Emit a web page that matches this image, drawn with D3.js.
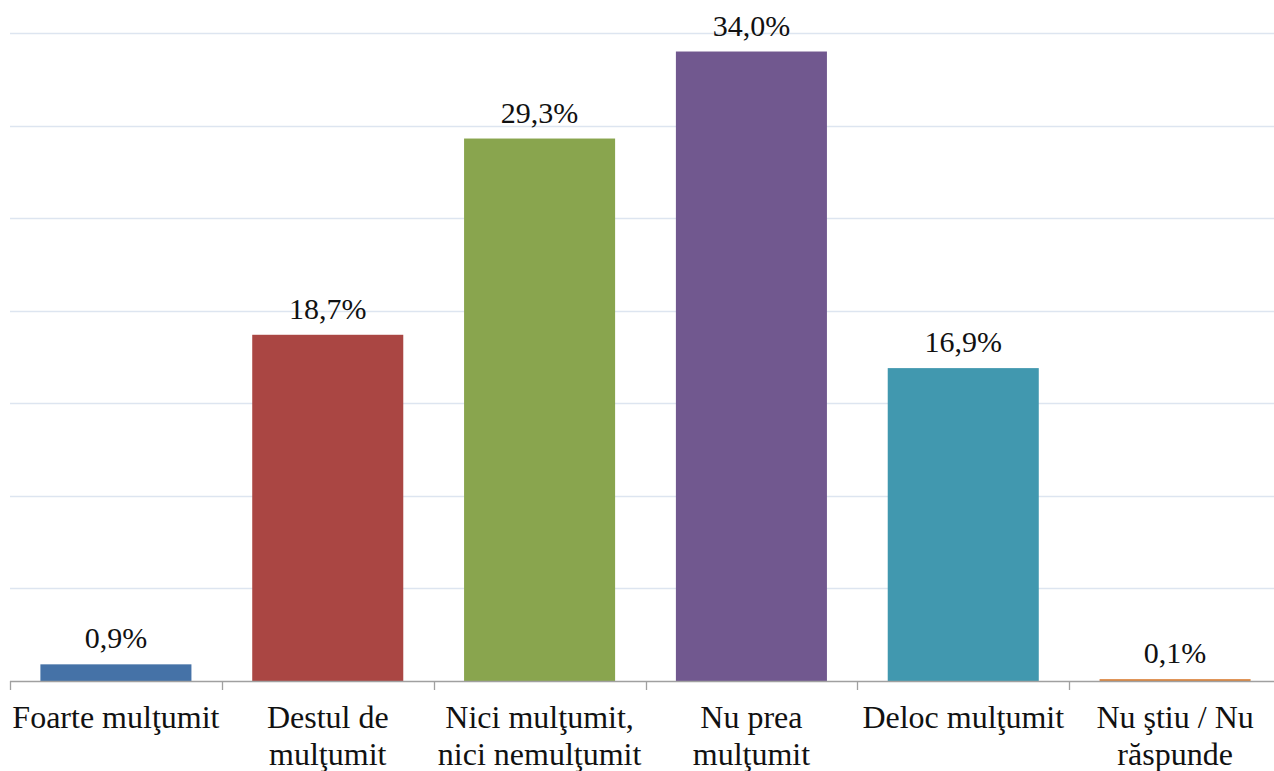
<!DOCTYPE html>
<html>
<head>
<meta charset="utf-8">
<script src="https://cdn.jsdelivr.net/npm/d3@7"></script>
<style>
  html, body { margin: 0; padding: 0; background: #ffffff; }
  svg { display: block; }
</style>
</head>
<body>
<svg id="chart" width="1274" height="771"></svg>
<script>
const categories = ["Foarte mulţumit", "Destul de mulţumit", "Nici mulţumit, nici nemulţumit", "Nu prea mulţumit", "Deloc mulţumit", "Nu ştiu / Nu răspunde"];
const categoryLines = [["Foarte mulţumit"], ["Destul de", "mulţumit"], ["Nici mulţumit,", "nici nemulţumit"], ["Nu prea", "mulţumit"], ["Deloc mulţumit"], ["Nu ştiu / Nu", "răspunde"]];
const values = [0.9, 18.7, 29.3, 34.0, 16.9, 0.1];
const valueLabels = ["0,9%", "18,7%", "29,3%", "34,0%", "16,9%", "0,1%"];
const colors = ["#4572A7", "#AA4643", "#89A54E", "#71588F", "#4198AF", "#DB843D"];
const gridTicks = [5, 10, 15, 20, 25, 30, 35];

(function () {
const FONT = "'Liberation Serif', 'Times New Roman', Tinos, serif";
const svg = d3.select("#chart");
const W = 1274;
const pLeft = 10, pRight = 1281, pTop = 33, pBottom = 681;

const slot = d3.scaleBand().domain(categories).range([pLeft, pRight]).padding(0);
const x = d3.scaleBand().domain(categories).range([pLeft, pRight]).paddingInner(0.287).paddingOuter(0.1435);
const y = d3.scaleLinear().domain([0, 35]).range([pBottom, pTop]);

// gridlines
svg.append("g").selectAll("line").data(gridTicks).join("line")
  .attr("x1", pLeft).attr("x2", W)
  .attr("y1", d => Math.round(y(d)) + 0.5).attr("y2", d => Math.round(y(d)) + 0.5)
  .attr("stroke", "#dde5f0").attr("stroke-width", 1.3);

// bars
svg.append("g").selectAll("rect").data(categories).join("rect")
  .attr("x", d => x(d))
  .attr("width", x.bandwidth())
  .attr("y", (d, i) => y(values[i]))
  .attr("height", (d, i) => y(0) - y(values[i]))
  .attr("fill", (d, i) => colors[i]);

// baseline axis
svg.append("line")
  .attr("x1", pLeft).attr("x2", W)
  .attr("y1", pBottom + 0.5).attr("y2", pBottom + 0.5)
  .attr("stroke", "#a0a0a0").attr("stroke-width", 1.3);

// ticks at category boundaries
const boundaries = categories.map(c => slot(c)).concat([pRight]);
svg.append("g").selectAll("line").data(boundaries).join("line")
  .attr("x1", d => Math.round(d) + 0.5).attr("x2", d => Math.round(d) + 0.5)
  .attr("y1", pBottom).attr("y2", pBottom + 9)
  .attr("stroke", "#a0a0a0").attr("stroke-width", 1.3);

// value labels
svg.append("g").selectAll("text").data(categories).join("text")
  .attr("x", d => x(d) + x.bandwidth() / 2)
  .attr("y", (d, i) => y(values[i]) - 16)
  .attr("text-anchor", "middle")
  .style("font-family", FONT)
  .attr("fill", "#111")
  .style("font-size", "30px")
  .text((d, i) => valueLabels[i]);

// category labels
const cat = svg.append("g").selectAll("text").data(categories).join("text")
  .attr("x", d => slot(d) + slot.bandwidth() / 2)
  .attr("y", 728)
  .attr("text-anchor", "middle")
  .style("font-family", FONT)
  .attr("fill", "#111")
  .style("font-size", "32px");
cat.each(function (d, i) {
  const t = d3.select(this);
  categoryLines[i].forEach((line, j) => {
    t.append("tspan")
      .attr("x", slot(d) + slot.bandwidth() / 2)
      .attr("dy", j === 0 ? 0 : 37)
      .text(line);
  });
});
})();
</script>
</body>
</html>
